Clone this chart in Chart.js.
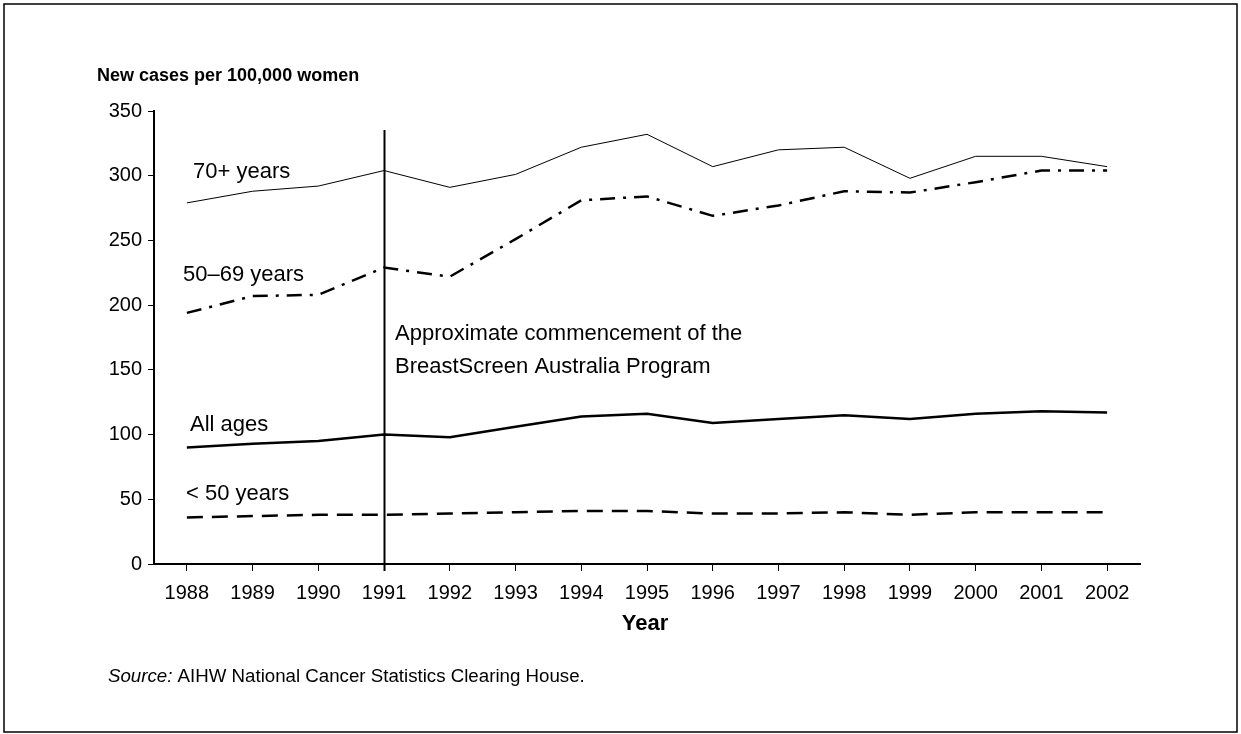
<!DOCTYPE html>
<html>
<head>
<meta charset="utf-8">
<script src="https://cdn.jsdelivr.net/npm/chart.js@4"></script>
<style>
  html, body { margin: 0; padding: 0; background: #fff; }
  #wrap { width: 1241px; height: 734px; }
</style>
</head>
<body>
<div id="wrap"><canvas id="grafico" width="1241" height="734"></canvas></div>
<script>
const years = ['1988', '1989', '1990', '1991', '1992', '1993', '1994', '1995',
  '1996', '1997', '1998', '1999', '2000', '2001', '2002'];

// new cases per 100,000 women, by age group
const age70plus = [279, 288, 292, 304, 291, 301, 322, 332, 307, 320, 322, 298, 315, 315, 307];
const age50to69 = [194, 207, 208, 229, 222, 251, 281, 284, 269, 277, 288, 287, 295, 304, 304];
const allAges   = [90, 93, 95, 100, 98, 106, 114, 116, 109, 112, 115, 112, 116, 118, 117];
const under50   = [36, 37, 38, 38, 39, 40, 41, 41, 39, 39, 40, 38, 40, 40, 40];

const yTicks = [0, 50, 100, 150, 200, 250, 300, 350];
const programStart = '1991';

const FONT = '"Liberation Sans", Arial, Helvetica, sans-serif';

// text labels, frame and the 1991 marker line
const extras = {
  id: 'extras',
  afterDraw(chart) {
    const ctx = chart.ctx;
    const x = chart.scales.x;
    const y = chart.scales.y;
    ctx.save();

    // frame round the figure
    ctx.strokeStyle = '#000';
    ctx.lineWidth = 1.5;
    ctx.strokeRect(4, 4, 1233, 728);

    // programme start marker
    const px = Math.round(x.getPixelForValue(programStart)) + 0.5;
    ctx.lineWidth = 2;
    ctx.beginPath();
    ctx.moveTo(px, 130);
    ctx.lineTo(px, y.bottom + 7);
    ctx.stroke();

    ctx.fillStyle = '#000';
    ctx.textBaseline = 'alphabetic';
    ctx.textAlign = 'left';

    ctx.font = 'bold 18px ' + FONT;
    ctx.fillText('New cases per 100,000 women', 97, 81);

    ctx.font = '22px ' + FONT;
    ctx.fillText('70+ years', 193, 178);
    ctx.fillText('50\u201369 years', 183, 281);
    ctx.fillText('All ages', 190, 431);
    ctx.fillText('< 50 years', 186, 500);

    ctx.fillText('Approximate commencement of the', 395, 340);
    ctx.fillText('BreastScreen Australia Program', 395, 373);

    ctx.font = 'bold 22px ' + FONT;
    ctx.textAlign = 'center';
    ctx.fillText('Year', 645, 630);

    ctx.textAlign = 'left';
    ctx.font = 'italic 18.7px ' + FONT;
    ctx.fillText('Source:', 108, 682);
    const w = ctx.measureText('Source: ').width;
    ctx.font = '18.7px ' + FONT;
    ctx.fillText('AIHW National Cancer Statistics Clearing House.', 108 + w, 682);

    ctx.restore();
  }
};

function line(data, width, dash) {
  return {
    data: data,
    borderColor: '#000',
    borderWidth: width,
    borderDash: dash,
    pointRadius: 0,
    tension: 0,
    fill: false
  };
}

const ctx = document.getElementById('grafico').getContext('2d');
new Chart(ctx, {
  type: 'line',
  data: {
    labels: years,
    datasets: [
      line(age70plus, 1, []),
      line(age50to69, 2.5, [15, 8, 3, 8]),
      line(allAges, 2.5, []),
      line(under50, 2.5, [16, 9])
    ]
  },
  options: {
    responsive: false,
    animation: false,
    layout: { padding: { top: 111, right: 101, left: 0, bottom: 0 } },
    plugins: {
      legend: { display: false },
      tooltip: { enabled: false },
      title: { display: false }
    },
    scales: {
      x: {
        offset: true,
        afterFit: (s) => { s.height = 170; },
        border: { display: true, color: '#000', width: 2 },
        grid: {
          display: true,
          drawOnChartArea: false,
          drawTicks: true,
          tickLength: 7,
          tickColor: '#000',
          tickWidth: 1,
          offset: false
        },
        ticks: {
          color: '#000',
          padding: 10,
          maxRotation: 0,
          autoSkip: false,
          font: { family: FONT, size: 20 }
        }
      },
      y: {
        min: 0,
        max: 350,
        afterFit: (s) => { s.width = 154; },
        afterBuildTicks: (s) => { s.ticks = yTicks.map(v => ({ value: v })); },
        border: { display: true, color: '#000', width: 2 },
        grid: {
          display: true,
          drawOnChartArea: false,
          drawTicks: true,
          tickLength: 6,
          tickColor: '#000',
          tickWidth: 1
        },
        ticks: {
          color: '#000',
          padding: 6,
          font: { family: FONT, size: 20 }
        }
      }
    }
  },
  plugins: [extras]
});
</script>
</body>
</html>
